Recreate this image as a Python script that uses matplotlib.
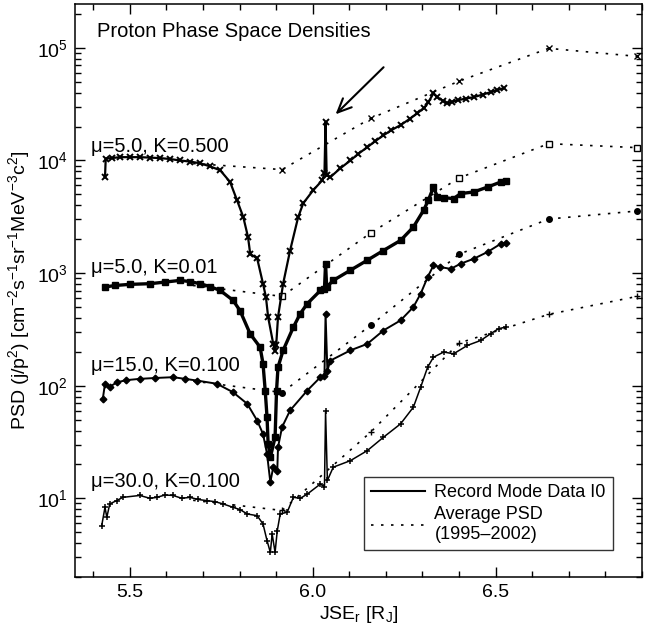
import numpy as np
import matplotlib
matplotlib.use('Agg')
import matplotlib.pyplot as plt
from matplotlib.ticker import LogLocator, MultipleLocator, FixedLocator, NullFormatter

plt.rcParams['font.family'] = ['Liberation Sans', 'DejaVu Sans']
plt.rcParams['mathtext.fontset'] = 'custom'
plt.rcParams['mathtext.rm'] = 'Liberation Sans'
plt.rcParams['mathtext.it'] = 'Liberation Sans'
plt.rcParams['mathtext.default'] = 'regular'

# record mode data I0 (JSEr, PSD)
x1 = [5.432, 5.434, 5.450, 5.473, 5.500, 5.527, 5.555, 5.582, 5.610, 5.637, 5.665, 5.692,
      5.719, 5.747, 5.774, 5.793, 5.810, 5.823, 5.829, 5.848, 5.864, 5.872, 5.878, 5.892,
      5.897, 5.900, 5.905, 5.919, 5.938, 5.960, 5.974, 6.001, 6.026, 6.032, 6.035, 6.038,
      6.048, 6.075, 6.103, 6.125, 6.149, 6.170, 6.193, 6.215, 6.240, 6.265, 6.286, 6.305,
      6.316, 6.330, 6.341, 6.355, 6.368, 6.380, 6.396, 6.420, 6.440, 6.465, 6.486, 6.505, 6.522]
psd1 = [7080, 10400, 10500, 10700, 10700, 10700, 10600, 10500, 10300, 10000, 9770, 9440,
        8870, 8180, 6440, 4430, 3150, 2090, 1480, 1350, 805, 612, 407, 235,
        204, 228, 407, 805, 1585, 3130, 4170, 5430, 6670, 7690, 22000, 7380,
        7100, 8510, 10000, 11500, 13100, 14800, 16700, 18600, 20600, 23400, 26300, 29500,
        32900, 39500, 36500, 33900, 32200, 33100, 34300, 35500, 36500, 38500, 40400, 42200, 43900]

x2 = [5.432, 5.459, 5.500, 5.555, 5.596, 5.637, 5.664, 5.692, 5.719, 5.747, 5.782, 5.801,
      5.829, 5.856, 5.864, 5.870, 5.875, 5.878, 5.884, 5.897, 5.901, 5.905, 5.919, 5.947,
      5.966, 5.985, 6.021, 6.032, 6.035, 6.038, 6.056, 6.103, 6.149, 6.193, 6.240, 6.275,
      6.303, 6.316, 6.330, 6.341, 6.358, 6.385, 6.404, 6.440, 6.478, 6.514, 6.527]
psd2 = [752, 776, 794, 805, 832, 861, 841, 805, 759, 701, 573, 465,
        288, 220, 157, 90.6, 52.5, 30.5, 23.1, 34.8, 90.6, 146, 206, 331,
        437, 535, 701, 724, 1210, 752, 861, 1060, 1300, 1585, 1950, 2560,
        3610, 4430, 5810, 4740, 4680, 4580, 5080, 5250, 5810, 6440, 6610]

x3 = [5.426, 5.432, 5.445, 5.464, 5.490, 5.527, 5.568, 5.618, 5.651, 5.684, 5.738, 5.782,
      5.821, 5.848, 5.864, 5.875, 5.884, 5.892, 5.903, 5.905, 5.916, 5.938, 5.985, 6.021,
      6.032, 6.035, 6.040, 6.048, 6.103, 6.149, 6.193, 6.240, 6.275, 6.295, 6.314, 6.330,
      6.349, 6.377, 6.404, 6.440, 6.478, 6.514, 6.527]
psd3 = [76.4, 104, 97.7, 107, 112, 115, 117, 119, 115, 111, 104, 87.5,
        69.0, 49.0, 37.3, 24.8, 13.9, 18.9, 17.6, 28.4, 42.8, 60.3, 90.6, 119,
        123, 436, 136, 167, 206, 235, 309, 380, 499, 656, 920, 1170,
        1130, 1090, 1210, 1340, 1540, 1820, 1860]

x4 = [5.423, 5.432, 5.437, 5.445, 5.464, 5.481, 5.527, 5.555, 5.574, 5.596, 5.618, 5.642,
      5.664, 5.686, 5.711, 5.733, 5.755, 5.782, 5.801, 5.821, 5.848, 5.864, 5.875, 5.884,
      5.889, 5.897, 5.903, 5.911, 5.930, 5.947, 5.966, 5.985, 6.021, 6.032, 6.035, 6.040,
      6.056, 6.103, 6.149, 6.193, 6.240, 6.275, 6.295, 6.314, 6.330, 6.358, 6.385, 6.423,
      6.459, 6.486, 6.508, 6.527]
psd4 = [5.71, 8.32, 6.78, 8.91, 9.55, 10.2, 10.6, 10.0, 10.2, 10.7, 10.6, 10.0,
        10.2, 9.77, 9.53, 9.33, 8.91, 8.32, 7.94, 7.26, 7.01, 5.92, 4.21, 3.31,
        4.82, 3.31, 5.16, 7.26, 7.52, 10.2, 10.0, 10.9, 13.4, 12.6, 59.0, 14.4,
        18.9, 21.6, 26.5, 34.8, 45.8, 64.4, 97.0, 146, 179, 199, 192, 228,
        252, 289, 321, 331]

# average PSD (1995-2002)
avg_x = [5.673, 5.916, 6.158, 6.400, 6.645, 6.887]
avg1 = [9400, 8300, 23600, 50600, 99000, 84000]
avg2 = [776, 621, 2270, 6990, 14100, 13000]
avg3 = [110, 87, 343, 1470, 3020, 3560]
avg4 = [9.6, 7.8, 38.6, 239, 430, 621]

labels = ['\u03bc=5.0, K=0.500', '\u03bc=5.0, K=0.01', '\u03bc=15.0, K=0.100', '\u03bc=30.0, K=0.100']

fig = plt.figure(figsize=(6.55, 6.3), dpi=100)
ax = fig.add_axes([0.1145, 0.0841, 0.8656, 0.9095])

dash = (0, (1.5, 4.5))
shown = [1, 2, 3, 4, 5]
ax.plot(avg_x, avg1, color='k', lw=1.2, ls=dash, marker='x', ms=4, mew=1, markevery=shown, zorder=1)
ax.plot(avg_x, avg2, color='k', lw=1.2, ls=dash, marker='s', ms=4, mfc='white', mew=1, markevery=shown, zorder=1)
ax.plot(avg_x, avg3, color='k', lw=1.2, ls=dash, marker='o', ms=4, markevery=shown, zorder=1)
ax.plot(avg_x, avg4, color='k', lw=1.2, ls=dash, marker='+', ms=5, mew=1, markevery=shown, zorder=1)

ax.plot(x1, psd1, color='k', lw=1.6, marker='x', ms=4, mew=1.4, zorder=3)
ax.plot(x2, psd2, color='k', lw=2.4, marker='s', ms=4.5, zorder=3)
ax.plot(x3, psd3, color='k', lw=1.4, marker='D', ms=3.4, zorder=3)
ax.plot(x4, psd4, color='k', lw=1.1, marker='+', ms=4.5, mew=1.1, zorder=3)

ax.set_yscale('log')
ax.set_xlim(5.35, 6.9)
ax.set_ylim(2, 2.45e5)

ax.xaxis.set_major_locator(FixedLocator([5.5, 6.0, 6.5]))
ax.xaxis.set_minor_locator(MultipleLocator(0.1))
ax.set_xticklabels(['5.5', '6.0', '6.5'])
ax.yaxis.set_major_locator(LogLocator(base=10, numticks=10))
ax.yaxis.set_minor_locator(LogLocator(base=10, subs=np.arange(2, 10), numticks=20))
ax.yaxis.set_minor_formatter(NullFormatter())
ax.tick_params(which='both', direction='in', top=True, right=True, labelsize=14, width=1)
ax.tick_params(which='major', length=7, pad=5)
ax.tick_params(which='minor', length=4)
for s in ax.spines.values():
    s.set_linewidth(1.1)

ax.set_xlabel('JSE$_r$ [R$_J$]', fontsize=14, labelpad=2)
ax.set_ylabel('PSD (j/p$^2$) [cm$^{-2}$s$^{-1}$sr$^{-1}$MeV$^{-3}$c$^2$]', fontsize=14, labelpad=4)

ax.text(0.039, 0.952, 'Proton Phase Space Densities', transform=ax.transAxes,
        fontsize=14.5, va='center', ha='left')
for lab, yy in zip(labels, [0.752, 0.541, 0.370, 0.166]):
    ax.text(0.028, yy, lab, transform=ax.transAxes, fontsize=14.5, va='center', ha='left')

ax.annotate('', xy=(6.057, 2.47e4), xytext=(6.199, 7.0e4),
            arrowprops=dict(arrowstyle='->,head_length=1.0,head_width=0.45', color='k', lw=1.5))

h1, = ax.plot([], [], color='k', lw=1.5)
h2, = ax.plot([], [], color='k', lw=1.2, ls=dash)
leg = ax.legend([h1, h2], ['Record Mode Data I0', 'Average PSD\n(1995\u20132002)'],
                loc='lower right', bbox_to_anchor=(0.949, 0.047), fontsize=13,
                frameon=True, fancybox=False, handlelength=3.0, borderpad=0.4,
                labelspacing=0.3, handletextpad=0.5, borderaxespad=0)
leg.get_frame().set_edgecolor('k')
leg.get_frame().set_linewidth(1.0)

fig.savefig('out.png', dpi=100)
